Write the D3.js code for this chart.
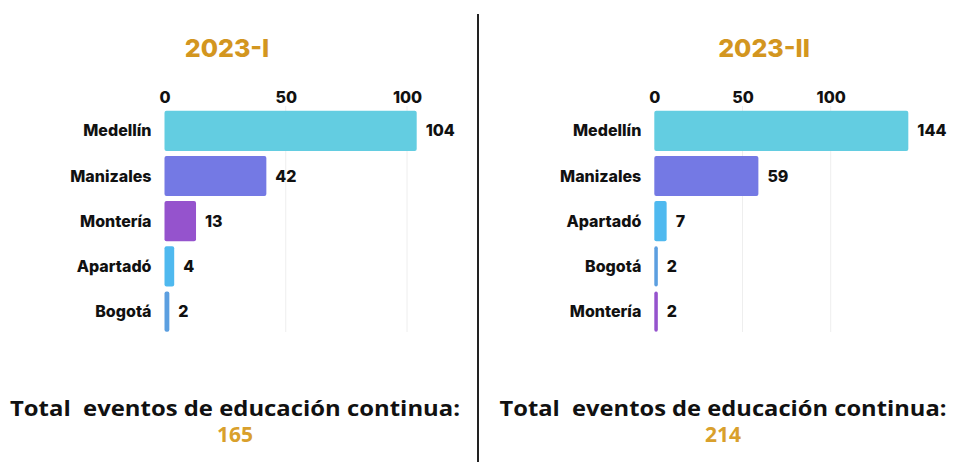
<!DOCTYPE html>
<html>
<head>
<meta charset="utf-8">
<script src="https://cdn.jsdelivr.net/npm/d3@7"></script>
<style>
    body { margin: 0; background: #fff; }
    text { font-family: "Inter", "Lato", sans-serif; }
</style>
</head>
<body>
<div id="chart"></div>
<script>
// data
var periods = ["2023-I", "2023-II"];
var cities1 = ["Medellín", "Manizales", "Montería", "Apartadó", "Bogotá"];
var values1 = [104, 42, 13, 4, 2];
var colors1 = ["#63cde1", "#7479e4", "#9553cd", "#4fb9ef", "#5c9fe0"];
var cities2 = ["Medellín", "Manizales", "Apartadó", "Bogotá", "Montería"];
var values2 = [144, 59, 7, 2, 2];
var colors2 = ["#63cde1", "#7479e4", "#4fb9ef", "#5c9fe0", "#9553cd"];
var ticks = [0, 50, 100];
var totals = [165, 214];

var width = 953;
var height = 462;

var svg = d3.select("#chart").append("svg")
    .attr("width", width)
    .attr("height", height)

var gold = "#d3961f";

function drawPanel(cfg) {
    var g = svg.append("g");

    var x = d3.scaleLinear()
        .domain([0, 100])
        .range([cfg.x0, cfg.x100]);

    var y = d3.scaleBand()
        .domain(cfg.cities)
        .range([110.7, 331.7])
        .paddingInner(0.111)
        .paddingOuter(0);

    // title
    g.append("text")
        .attr("x", cfg.titleX)
        .attr("y", 57)
        .attr("text-anchor", "middle")
        .attr("fill", gold)
        .style("font-size", "25px")
        .style("font-weight", "800")
        .text(cfg.title);

    // grid
    g.selectAll(".grid")
        .data(ticks.slice(1))
        .enter()
        .append("line")
        .attr("x1", function (d) { return x(d); })
        .attr("x2", function (d) { return x(d); })
        .attr("y1", 106)
        .attr("y2", 332)
        .attr("stroke", "#eeeeee")
        .attr("stroke-width", 1);

    // top axis
    var xAxisCall = d3.axisTop(x).tickValues(ticks).tickSize(0).tickPadding(0);
    var ax = g.append("g")
        .attr("class", "x-axis")
        .attr("transform", "translate(0, 103)")
        .call(xAxisCall);
    ax.select(".domain").remove();
    ax.selectAll("text")
        .attr("fill", "#111")
        .style("font-size", "16px")
        .style("font-weight", "800")
        .style("font-family", "Inter, sans-serif");

    // bars
    g.selectAll(".bar")
        .data(cfg.values)
        .enter()
        .append("rect")
        .attr("class", "bar")
        .attr("x", x(0))
        .attr("y", function (d, i) { return y(cfg.cities[i]); })
        .attr("width", function (d) { return Math.max(x(d) - x(0), 3); })
        .attr("height", y.bandwidth())
        .attr("rx", 2)
        .attr("fill", function (d, i) { return cfg.colors[i]; });

    // category labels
    g.selectAll(".cat")
        .data(cfg.cities)
        .enter()
        .append("text")
        .attr("x", x(0) - 13)
        .attr("y", function (d) { return y(d) + y.bandwidth() / 2; })
        .attr("dy", "0.35em")
        .attr("text-anchor", "end")
        .attr("fill", "#111")
        .style("font-size", "16px")
        .style("font-weight", "800")
        .text(function (d) { return d; });

    // value labels
    g.selectAll(".val")
        .data(cfg.values)
        .enter()
        .append("text")
        .attr("x", function (d) { return Math.max(x(d), x(0) + 3) + 9; })
        .attr("y", function (d, i) { return y(cfg.cities[i]) + y.bandwidth() / 2; })
        .attr("dy", "0.35em")
        .attr("fill", "#111")
        .style("font-size", "16px")
        .style("font-weight", "800")
        .text(function (d) { return d; });

    // total
    g.append("text")
        .attr("x", cfg.totalX)
        .attr("y", 416)
        .attr("text-anchor", "middle")
        .attr("fill", "#111")
        .style("font-family", "'Open Sans', sans-serif")
        .style("font-size", "21px")
        .style("font-weight", "700")
        .style("white-space", "pre")
        .attr("textLength", cfg.totalW)
        .attr("lengthAdjust", "spacingAndGlyphs")
        .text("Total  eventos de educación continua:");

    g.append("text")
        .attr("x", cfg.totalX)
        .attr("y", 442)
        .attr("text-anchor", "middle")
        .attr("fill", "#d9a02c")
        .style("font-family", "'Open Sans', sans-serif")
        .style("font-size", "21px")
        .style("font-weight", "700")
        .text(cfg.total);
}

drawPanel({
    title: periods[0], titleX: 227,
    cities: cities1, values: values1, colors: colors1,
    x0: 164.5, x100: 407,
    totalX: 235, totalW: 450, total: totals[0]
});

drawPanel({
    title: periods[1], titleX: 764,
    cities: cities2, values: values2, colors: colors2,
    x0: 654.3, x100: 830.7,
    totalX: 723, totalW: 447, total: totals[1]
});

// divider
svg.append("line")
    .attr("x1", 478)
    .attr("x2", 478)
    .attr("y1", 14)
    .attr("y2", height)
    .attr("stroke", "#222")
    .attr("stroke-width", 2);
</script>
</body>
</html>
